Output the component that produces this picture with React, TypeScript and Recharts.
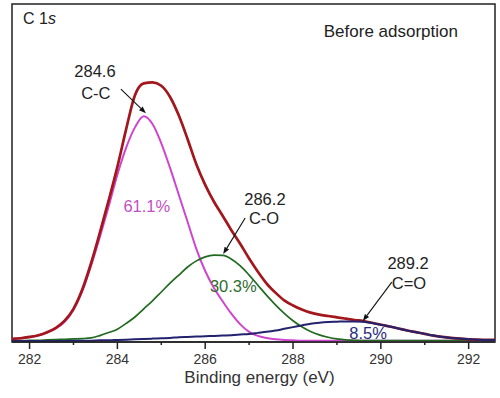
import * as React from "react";
import {
  Label,
  Line,
  LineChart,
  ReferenceArea,
  ReferenceDot,
  ReferenceLine,
  XAxis,
  YAxis,
} from "recharts";

// binding energy grid (eV), every 0.2 eV
const energy = [
  281.6, 281.8, 282.0, 282.2, 282.4, 282.6, 282.8, 283.0, 283.2, 283.4,
  283.6, 283.8, 284.0, 284.2, 284.4, 284.6, 284.8, 285.0, 285.2, 285.4,
  285.6, 285.8, 286.0, 286.2, 286.4, 286.6, 286.8, 287.0, 287.2, 287.4,
  287.6, 287.8, 288.0, 288.2, 288.4, 288.6, 288.8, 289.0, 289.2, 289.4,
  289.6, 289.8, 290.0, 290.2, 290.4, 290.6, 290.8, 291.0, 291.2, 291.4,
  291.6, 291.8, 292.0, 292.2, 292.4, 292.6,
];

// fitted envelope
const envelope = [
  0.9, 1.1, 1.5, 2.0, 2.9, 4.2, 6.3, 9.8, 15.5, 23.3,
  32.3, 41.8, 51.8, 63.0, 73.0, 76.5, 76.8, 75.8, 72.5, 67.0,
  60.0, 52.5, 46.5, 41.5, 37.3, 33.0, 29.0, 24.7, 20.8, 17.3,
  14.6, 12.3, 10.8, 9.6, 8.7, 8.1, 7.7, 7.3, 6.9, 6.5,
  6.2, 5.7, 5.1, 4.6, 4.0, 3.4, 2.9, 2.4, 1.9, 1.5,
  1.2, 1.0, 0.8, 0.7, 0.6, 0.6,
];

// C-C component (284.6 eV)
const cc = [
  0.9, 1.1, 1.4, 1.9, 2.8, 4.0, 6.0, 9.5, 15.0, 22.5,
  31.0, 40.0, 49.5, 57.5, 63.5, 66.8, 64.5, 58.8, 51.5, 43.5,
  35.5, 27.5, 21.0, 16.0, 12.0, 8.3, 5.2, 3.0, 1.8, 1.2,
  0.8, 0.6, 0.5, 0.4, 0.4, 0.4, 0.4, 0.4, 0.4, 0.4,
  0.4, 0.4, 0.4, 0.4, 0.4, 0.4, 0.4, 0.4, 0.4, 0.4,
  0.4, 0.4, 0.4, 0.4, 0.4, 0.4,
];

// C-O component (286.2 eV)
const co = [
  0.4, 0.4, 0.5, 0.5, 0.6, 0.7, 0.8, 0.9, 1.0, 1.2,
  1.9, 2.8, 3.8, 5.5, 7.4, 9.8, 12.2, 14.8, 17.4, 19.8,
  22.2, 24.0, 25.2, 25.7, 25.6, 24.5, 22.5, 19.8, 16.8, 13.8,
  11.0, 8.5, 6.3, 4.5, 3.1, 2.1, 1.4, 0.9, 0.6, 0.5,
  0.4, 0.4, 0.4, 0.4, 0.4, 0.4, 0.4, 0.4, 0.4, 0.4,
  0.4, 0.4, 0.4, 0.4, 0.4, 0.4,
];

// C=O component (289.2 eV)
const cdo = [
  0.3, 0.3, 0.3, 0.3, 0.3, 0.3, 0.3, 0.4, 0.4, 0.4,
  0.5, 0.5, 0.6, 0.7, 0.8, 0.9, 1.0, 1.1, 1.2, 1.4,
  1.5, 1.6, 1.7, 1.8, 1.9, 2.0, 2.2, 2.4, 2.7, 3.0,
  3.4, 3.9, 4.4, 4.9, 5.4, 5.7, 5.9, 6.0, 6.1, 6.1,
  6.0, 5.6, 5.1, 4.6, 4.0, 3.4, 2.9, 2.4, 1.9, 1.5,
  1.2, 1.0, 0.8, 0.7, 0.6, 0.6,
];

const xTicks = [282, 283, 284, 285, 286, 287, 288, 289, 290, 291, 292];

const data = energy.map((e, i) => ({
  e,
  envelope: envelope[i],
  cc: cc[i],
  co: co[i],
  cdo: cdo[i],
}));

const FONT = "'Liberation Sans', Arial, sans-serif";
const AXIS = "#222";

// peak annotations, in data coordinates
const notes = [
  { x: 283.49, y: 78.4, text: "284.6", color: "#222" },
  { x: 283.51, y: 71.9, text: "C-C", color: "#222" },
  { x: 287.36, y: 40.5, text: "286.2", color: "#222" },
  { x: 287.34, y: 34.9, text: "C-O", color: "#222" },
  { x: 290.62, y: 21.6, text: "289.2", color: "#222" },
  { x: 290.64, y: 15.7, text: "C=O", color: "#222" },
  { x: 284.67, y: 38.4, text: "61.1%", color: "#c24fc4" },
  { x: 286.64, y: 14.8, text: "30.3%", color: "#2f6d2f" },
  { x: 289.71, y: 0.9, text: "8.5%", color: "#2a2a7e" },
];

const arrows = [
  { from: { x: 284.08, y: 74.8 }, to: { x: 284.65, y: 67.7 } },
  { from: { x: 286.91, y: 36.7 }, to: { x: 286.41, y: 26.0 } },
  { from: { x: 290.25, y: 17.7 }, to: { x: 289.59, y: 6.2 } },
];

function EnergyTick(props: any) {
  const { x, y, payload } = props;
  const major = Math.round(payload.value) % 2 === 0;
  return (
    <g>
      <line x1={x} x2={x} y1={y} y2={y + (major ? 7 : 3)} stroke={AXIS} strokeWidth={1.5} />
      {major && (
        <text x={x} y={y + 22} textAnchor="middle" fontSize={14} fill="#333" fontFamily={FONT}>
          {payload.value}
        </text>
      )}
    </g>
  );
}

function textShape(text: string, color: string, anchor = "middle", size = 16.5, italicTail = false) {
  return (p: any) => (
    <text x={p.cx} y={p.cy} textAnchor={anchor} fontSize={size} fill={color} fontFamily={FONT}>
      {italicTail ? (
        <>
          {text}
          <tspan fontStyle="italic">s</tspan>
        </>
      ) : (
        text
      )}
    </text>
  );
}

function arrowShape(p: any) {
  const { x1, y1, x2, y2 } = p;
  const ang = Math.atan2(y2 - y1, x2 - x1);
  const len = 7;
  const half = 2.6;
  const bx = x2 - len * Math.cos(ang);
  const by = y2 - len * Math.sin(ang);
  const nx = -Math.sin(ang) * half;
  const ny = Math.cos(ang) * half;
  return (
    <g>
      <line x1={x1} y1={y1} x2={bx} y2={by} stroke="#111" strokeWidth={1.1} />
      <polygon points={`${x2},${y2} ${bx + nx},${by + ny} ${bx - nx},${by - ny}`} fill="#111" />
    </g>
  );
}

function AxisTitle(props: any) {
  const vb = props.viewBox || { x: 12, y: 342, width: 483 };
  return (
    <text
      x={vb.x + vb.width / 2 + 6}
      y={vb.y + 41}
      textAnchor="middle"
      fontSize={17}
      fill="#333"
      fontFamily={FONT}
    >
      Binding energy (eV)
    </text>
  );
}

export default function App() {
  return (
    <div style={{ position: "absolute", left: 0, top: 0, background: "#fff" }}>
      <LineChart
        width={500}
        height={398}
        data={data}
        margin={{ top: 4, right: 5, left: 12, bottom: 0 }}
      >
        <XAxis
          dataKey="e"
          type="number"
          domain={[281.6, 292.6]}
          ticks={xTicks}
          interval={0}
          allowDataOverflow
          height={56}
          tickLine={false}
          tickSize={0}
          tickMargin={0}
          tick={<EnergyTick />}
          axisLine={{ stroke: AXIS, strokeWidth: 1.5 }}
        >
          <Label content={<AxisTitle />} />
        </XAxis>
        <YAxis type="number" domain={[0, 100]} width={0} tick={false} tickLine={false} axisLine={false} />

        {/* plot frame */}
        <ReferenceArea
          x1={281.6}
          x2={292.6}
          y1={0}
          y2={100}
          fill="none"
          fillOpacity={0}
          stroke={AXIS}
          strokeWidth={1.5}
          strokeOpacity={1}
          ifOverflow="visible"
        />

        <Line type="monotone" dataKey="cc" stroke="#cf45cf" strokeWidth={2} dot={false} isAnimationActive={false} />
        <Line type="monotone" dataKey="co" stroke="#216b21" strokeWidth={1.7} dot={false} isAnimationActive={false} />
        <Line type="monotone" dataKey="envelope" stroke="#a3161b" strokeWidth={2.7} dot={false} isAnimationActive={false} />
        <Line type="monotone" dataKey="cdo" stroke="#22226e" strokeWidth={2} dot={false} isAnimationActive={false} />

        {arrows.map((a, i) => (
          <ReferenceLine key={`a${i}`} segment={[a.from, a.to]} shape={arrowShape} ifOverflow="visible" />
        ))}

        <ReferenceDot x={281.85} y={94.0} r={1} ifOverflow="visible" shape={textShape("C 1", "#222", "start", 16, true)} />
        <ReferenceDot x={288.7} y={90.2} r={1} ifOverflow="visible" shape={textShape("Before adsorption", "#222", "start", 17)} />
        {notes.map((n) => (
          <ReferenceDot
            key={n.text}
            x={n.x}
            y={n.y}
            r={1}
            ifOverflow="visible"
            shape={textShape(n.text, n.color)}
          />
        ))}
      </LineChart>
    </div>
  );
}
